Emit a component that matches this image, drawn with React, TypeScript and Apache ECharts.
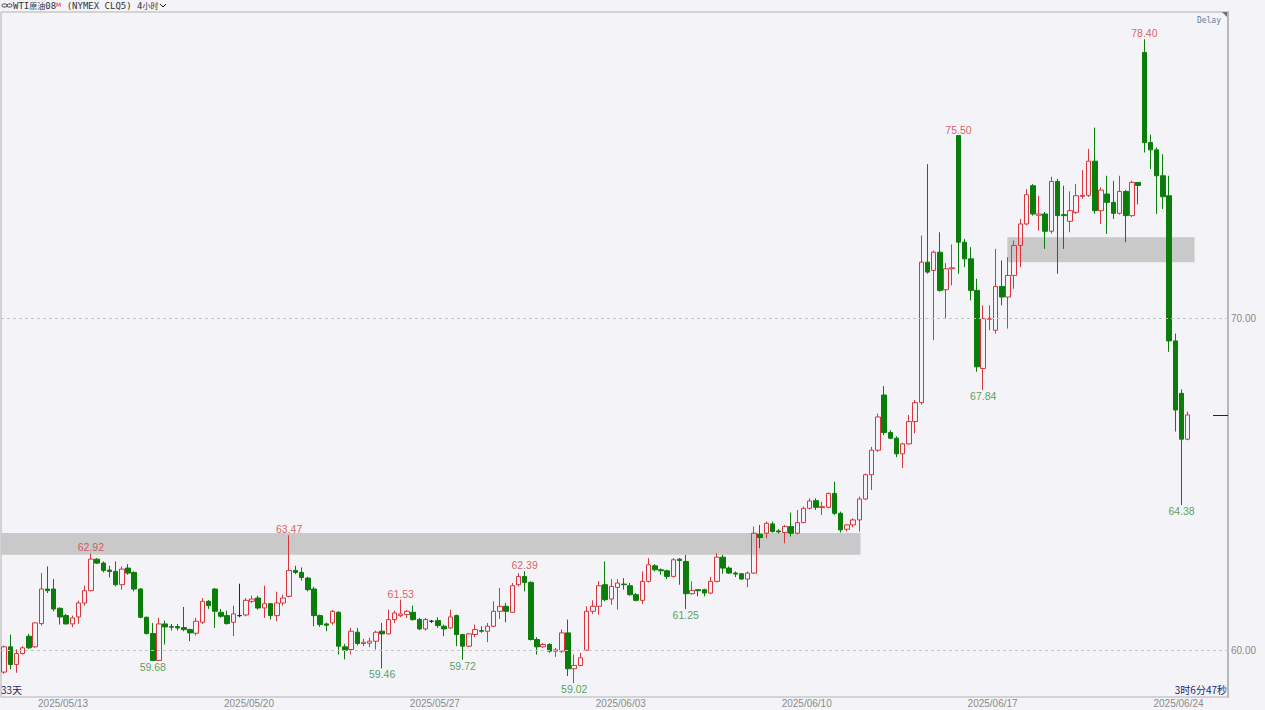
import React, { useEffect, useRef } from "react";
import * as echarts from "echarts";

// Each candle: [open, close, low, high] (4-hour bars, WTI crude)
const ohlc: number[][] = [
  [59.35, 60.11, 59.3, 60.15], [60.11, 59.58, 59.43, 60.48], [59.58, 59.91, 59.33, 60.03], [59.91, 60.08, 59.88, 60.13],
  [60.43, 60.08, 60.05, 60.5], [60.11, 60.83, 60.08, 60.85], [60.81, 61.85, 60.75, 62.33], [61.85, 61.8, 61.73, 62.53],
  [61.85, 61.25, 61.18, 62.15], [61.27, 61.01, 60.78, 61.3], [61.05, 60.8, 60.78, 61.1], [60.8, 60.98, 60.7, 61.05],
  [61.01, 61.43, 60.8, 61.5], [61.43, 61.8, 61.35, 61.95], [61.8, 62.75, 61.78, 62.92], [62.75, 62.63, 62.6, 62.78],
  [62.63, 62.41, 62.35, 62.68], [62.42, 62.38, 62.2, 62.55], [62.38, 61.98, 61.93, 62.68], [61.98, 62.45, 61.83, 62.53],
  [62.48, 62.33, 62.28, 62.6], [62.35, 61.85, 61.78, 62.38], [61.85, 61.0, 60.97, 61.88], [61.0, 60.51, 60.48, 61.02],
  [60.51, 59.7, 59.68, 60.83], [59.7, 60.8, 59.68, 60.98], [60.8, 60.71, 60.18, 60.9], [60.72, 60.7, 60.6, 60.8],
  [60.72, 60.68, 60.6, 60.8], [60.69, 60.63, 60.58, 61.31], [60.63, 60.53, 60.28, 60.66], [60.52, 60.88, 60.45, 60.98],
  [60.85, 61.48, 60.8, 61.58], [61.48, 61.35, 61.25, 61.52], [61.85, 61.18, 60.68, 61.88], [61.15, 61.03, 60.98, 61.25],
  [61.05, 60.81, 60.78, 61.2], [60.85, 61.1, 60.43, 61.35], [61.05, 61.05, 61.0, 62.01], [61.07, 61.51, 61.03, 61.58],
  [61.48, 61.55, 61.43, 61.65], [61.58, 61.28, 61.23, 61.65], [61.28, 61.41, 60.98, 61.95], [61.41, 61.05, 60.93, 61.43],
  [61.05, 61.43, 60.88, 61.77], [61.43, 61.58, 61.35, 61.68], [61.63, 62.41, 61.6, 63.47], [62.41, 62.35, 62.3, 62.55],
  [62.35, 62.2, 62.1, 62.5], [62.18, 61.83, 61.78, 62.22], [61.85, 61.05, 60.73, 61.92], [61.05, 60.78, 60.71, 61.08],
  [60.8, 60.76, 60.58, 60.84], [60.83, 61.18, 60.78, 61.22], [61.15, 60.13, 59.88, 61.18], [60.11, 60.01, 59.73, 60.2],
  [60.03, 60.58, 59.88, 60.68], [60.55, 60.21, 60.15, 60.68], [60.21, 60.25, 60.13, 60.35], [60.22, 60.28, 60.1, 60.38],
  [60.28, 60.55, 60.03, 60.6], [60.58, 60.5, 59.46, 60.83], [60.5, 60.93, 60.48, 61.23], [60.93, 61.13, 60.83, 61.2],
  [61.05, 61.1, 61.0, 61.53], [61.08, 61.18, 60.98, 61.22], [61.15, 60.93, 60.9, 61.35], [60.93, 60.65, 60.62, 60.98],
  [60.65, 60.93, 60.6, 60.98], [60.88, 60.88, 60.83, 60.92], [60.9, 60.75, 60.68, 61.0], [60.73, 60.65, 60.43, 60.78],
  [60.68, 61.01, 60.65, 61.23], [61.05, 60.48, 60.13, 61.08], [60.48, 60.13, 59.72, 60.5], [60.13, 60.5, 60.1, 60.53],
  [60.48, 60.63, 60.4, 60.78], [60.6, 60.58, 60.53, 60.73], [60.58, 60.73, 60.25, 60.83], [60.73, 61.18, 60.7, 61.48],
  [61.18, 61.33, 60.95, 61.88], [61.33, 61.18, 60.85, 61.43], [61.15, 61.95, 61.13, 62.03], [61.98, 62.23, 61.93, 62.33],
  [62.23, 62.05, 61.78, 62.39], [62.05, 60.33, 60.3, 62.08], [60.33, 60.11, 59.88, 60.4], [60.11, 60.18, 60.08, 60.22],
  [60.18, 59.98, 59.93, 60.22], [59.98, 60.02, 59.81, 60.08], [59.98, 60.53, 59.93, 60.63], [60.53, 59.45, 59.23, 60.93],
  [59.45, 59.55, 59.02, 59.88], [59.55, 59.78, 59.53, 59.93], [60.01, 61.18, 59.98, 61.33], [61.18, 61.33, 61.1, 61.51],
  [61.33, 61.95, 61.08, 62.08], [61.98, 61.53, 61.48, 62.68], [61.55, 61.93, 61.38, 62.15], [61.9, 62.03, 61.23, 62.15],
  [62.0, 61.98, 61.83, 62.18], [61.95, 61.68, 61.65, 62.03], [61.68, 61.51, 61.48, 61.73], [61.51, 62.08, 61.4, 62.38],
  [62.08, 62.58, 62.05, 62.78], [62.55, 62.43, 62.38, 62.6], [62.43, 62.4, 62.28, 62.47], [62.4, 62.23, 62.15, 62.43],
  [62.23, 62.73, 62.2, 62.78], [62.75, 62.71, 61.98, 62.78], [62.68, 61.71, 61.25, 62.88], [61.71, 61.81, 61.68, 62.08],
  [61.83, 61.8, 61.63, 61.85], [61.83, 61.73, 61.63, 61.86], [61.73, 62.08, 61.7, 62.21], [62.08, 62.81, 62.05, 62.93],
  [62.81, 62.48, 62.31, 62.88], [62.48, 62.33, 62.3, 62.53], [62.33, 62.3, 62.21, 62.38], [62.31, 62.15, 62.13, 62.33],
  [62.15, 62.33, 61.9, 62.38], [62.33, 63.53, 62.3, 63.73], [63.5, 63.4, 63.08, 63.78], [63.53, 63.83, 63.38, 63.88],
  [63.81, 63.58, 63.55, 63.88], [63.6, 63.57, 63.52, 63.65], [63.55, 63.73, 63.23, 63.78], [63.73, 63.53, 63.43, 64.15],
  [63.53, 63.85, 63.5, 64.23], [63.85, 64.28, 63.83, 64.33], [64.28, 64.5, 64.25, 64.58], [64.51, 64.31, 64.23, 64.58],
  [64.3, 64.33, 64.08, 64.48], [64.31, 64.73, 64.28, 64.75], [64.73, 64.13, 64.08, 65.08], [64.13, 63.63, 63.55, 64.18],
  [63.65, 63.78, 63.58, 63.81], [63.78, 63.93, 63.71, 63.98], [63.93, 64.56, 63.58, 64.63], [64.56, 65.29, 64.53, 65.33],
  [65.29, 66.03, 64.83, 66.13], [66.03, 67.03, 65.98, 67.13], [67.69, 66.56, 66.48, 67.96], [66.56, 66.39, 66.36, 66.63],
  [66.39, 65.92, 65.82, 66.45], [65.92, 66.22, 65.49, 66.25], [66.22, 66.89, 66.2, 67.09], [66.89, 67.46, 66.54, 67.54],
  [67.46, 71.69, 67.4, 72.49], [71.69, 71.39, 71.34, 74.64], [71.44, 71.99, 69.34, 72.04], [71.99, 70.84, 70.8, 72.59],
  [70.86, 71.49, 69.99, 71.66], [71.49, 71.52, 70.99, 72.22], [75.5, 72.29, 71.34, 75.5], [72.29, 71.79, 71.54, 72.39],
  [71.79, 70.84, 70.54, 72.14], [70.84, 68.54, 68.39, 71.19], [68.49, 69.99, 67.84, 70.39], [69.97, 70.0, 69.64, 70.39],
  [69.64, 70.96, 69.54, 72.09], [70.96, 70.64, 70.39, 71.74], [70.64, 71.29, 69.69, 71.84], [71.29, 72.19, 70.89, 72.34],
  [72.19, 72.84, 71.54, 72.99], [72.84, 73.72, 72.8, 73.89], [73.99, 73.14, 73.09, 74.04], [73.1, 73.14, 72.64, 73.69],
  [73.14, 72.62, 72.09, 73.2], [72.62, 74.12, 72.55, 74.26], [74.12, 73.09, 71.34, 74.2], [73.12, 73.09, 72.09, 73.99],
  [72.92, 73.24, 72.59, 73.82], [73.19, 73.69, 73.14, 74.04], [73.67, 73.7, 73.6, 74.46], [73.7, 74.73, 73.65, 75.1],
  [74.73, 73.24, 73.15, 75.74], [73.24, 73.86, 72.84, 73.94], [73.74, 73.49, 72.54, 74.29], [73.49, 73.16, 72.99, 74.14],
  [73.16, 73.82, 73.12, 74.29], [73.82, 73.09, 72.29, 73.86], [73.09, 74.09, 73.05, 74.14], [74.09, 74.0, 73.43, 74.1],
  [78.0, 75.29, 74.99, 78.4], [75.29, 75.07, 74.49, 75.53], [75.07, 74.29, 73.14, 75.14], [74.29, 73.66, 73.29, 74.94],
  [73.69, 69.32, 68.99, 74.29], [69.32, 67.24, 66.59, 69.54], [67.74, 66.36, 64.38, 67.86], [66.36, 67.09, 66.33, 67.19],
];

const slotCount = 198; // bar slots on the axis (incl. empty room on the right)
const dateTickIdx = [10, 40, 70, 100, 130, 160, 190];
const dateTickLabels = ["2025/05/13", "2025/05/20", "2025/05/27", "2025/06/03", "2025/06/10", "2025/06/17", "2025/06/24"];
const highIdx = [14, 46, 64, 84, 154, 184];
const lowIdx = [24, 61, 74, 92, 110, 158, 190];
const yLabelValues = [60, 70];
// zones: [start slot, end slot, upper price, lower price]
const zones = [
  [-0.5, 138.2, 63.54, 62.88],
  [161.9, 192.1, 72.44, 71.69],
];
const yMin = 58.6;
const yMax = 79.22;
const daysText = "33天";
const countdownText = "3时6分47秒";

const UP = "#d8353c";
const DOWN = "#0b7d0b";
const LABEL_FONT = "'Liberation Sans', Arial, sans-serif";

export default function App() {
  const ref = useRef<HTMLDivElement>(null);

  useEffect(() => {
    if (!ref.current) return;
    const chart = echarts.init(ref.current, null, { renderer: "svg" });
    const cats = Array.from({ length: slotCount }, (_, i) => String(i));

    const option: any = {
      animation: false,
      backgroundColor: "#f4f4f8",
      textStyle: { fontFamily: LABEL_FONT },
      grid: {
        left: 1,
        right: 37,
        top: 12,
        bottom: 13,
        show: true,
        borderColor: "#b2b2b2",
        borderWidth: 1,
        backgroundColor: "#f4f4f8",
      },
      xAxis: {
        type: "category",
        data: cats,
        boundaryGap: true,
        axisLine: { show: false },
        axisTick: { show: false },
        splitLine: { show: false },
        axisLabel: {
          interval: (idx: number) => dateTickIdx.indexOf(idx) >= 0,
          margin: 1,
          formatter: (v: string) => {
            const k = dateTickIdx.indexOf(Number(v));
            return k >= 0 ? `{a|${dateTickLabels[k]}}` : "";
          },
          rich: {
            a: {
              fontSize: 10,
              color: "#8a8a8a",
              fontFamily: LABEL_FONT,
              padding: [0, 6, 0, 0],
            },
          },
        },
      },
      yAxis: {
        type: "value",
        position: "right",
        min: yMin,
        max: yMax,
        splitNumber: 5,
        splitLine: { show: false },
        axisTick: { show: false },
        axisLine: { show: true, lineStyle: { color: "#b8b8b8", width: 2 } },
        axisLabel: {
          showMinLabel: false,
          showMaxLabel: false,
          margin: 3,
          fontSize: 10,
          color: "#8a8a8a",
          fontFamily: LABEL_FONT,
          formatter: (v: number) =>
            yLabelValues.some((t) => Math.abs(t - v) < 1e-6) ? v.toFixed(2) : "",
        },
      },
      series: [
        {
          type: "custom",
          name: "zones",
          silent: true,
          z: 1,
          data: zones.map((z) => [0, z[2]]),
          encode: { x: 0, y: 1 },
          renderItem: (params: any, api: any) => {
            const z = zones[params.dataIndex];
            const c0 = api.coord([0, z[2]]);
            const c1 = api.coord([0, z[3]]);
            const bw = api.size([1, 0])[0];
            const x1 = c0[0] + z[0] * bw;
            const x2 = c0[0] + z[1] * bw;
            return {
              type: "rect",
              shape: { x: x1, y: c0[1], width: x2 - x1, height: c1[1] - c0[1] },
              style: { fill: "#c9c9c9" },
            };
          },
        },
        {
          type: "candlestick",
          name: "WTI",
          z: 3,
          barWidth: 5,
          data: ohlc,
          itemStyle: {
            color: "transparent",
            color0: DOWN,
            borderColor: UP,
            borderColor0: DOWN,
            borderColorDoji: "#2a2a2a",
            borderWidth: 1,
          },
          markLine: {
            silent: true,
            symbol: ["none", "none"],
            label: { show: false },
            lineStyle: { type: [3, 3], color: "#c6c6c6", width: 1 },
            data: yLabelValues.map((v) => ({ yAxis: v })),
          },
        },
        {
          type: "scatter",
          name: "highs",
          z: 5,
          silent: true,
          symbolSize: 1,
          itemStyle: { color: "rgba(0,0,0,0)" },
          data: highIdx.map((i) => [i, ohlc[i][3]]),
          label: {
            show: true,
            position: "top",
            distance: 0,
            color: "#cf3a40",
            fontSize: 10.5,
            fontFamily: LABEL_FONT,
            formatter: (p: any) => (p.value[1] as number).toFixed(2),
          },
        },
        {
          type: "scatter",
          name: "lows",
          z: 5,
          silent: true,
          symbolSize: 1,
          itemStyle: { color: "rgba(0,0,0,0)" },
          data: lowIdx.map((i) => [i, ohlc[i][2]]),
          label: {
            show: true,
            position: "bottom",
            distance: 0,
            color: "#2f8a2f",
            fontSize: 10.5,
            fontFamily: LABEL_FONT,
            formatter: (p: any) => (p.value[1] as number).toFixed(2),
          },
        },
      ],
      graphic: [
        {
          id: "linkL",
          type: "rect",
          shape: { x: 2, y: 4, width: 5, height: 3, r: 1.5 },
          style: { stroke: "#444", fill: "none", lineWidth: 1 },
        },
        {
          id: "linkR",
          type: "rect",
          shape: { x: 7, y: 4, width: 5, height: 3, r: 1.5 },
          style: { stroke: "#444", fill: "none", lineWidth: 1 },
        },
        {
          id: "title",
          type: "text",
          left: 13,
          top: 1,
          style: {
            text: "{a|WTI}{k|原油}{a|08}{m|M}{a| (NYMEX CLQ5) 4}{k|小时}",
            rich: {
              a: { fontSize: 9, fill: "#333", fontFamily: "'DejaVu Sans Mono'" },
              k: { fontSize: 8, fill: "#333", fontFamily: "'Noto Sans CJK SC'" },
              m: { fontSize: 6, fill: "#d03030", fontFamily: "'DejaVu Sans'", verticalAlign: "top" },
            },
          },
        },
        {
          id: "chevron",
          type: "polyline",
          shape: { points: [[160, 4], [163, 7], [166, 4]] },
          style: { stroke: "#222", lineWidth: 1, fill: null },
          z: 20,
        },
        {
          id: "delay",
          type: "text",
          right: 44,
          top: 16,
          style: { text: "Delay", fontSize: 8, fill: "#6a7b9c", fontFamily: "'DejaVu Sans Mono'" },
        },
        {
          id: "corner",
          type: "polygon",
          shape: { points: [[1222, 12], [1228, 12], [1228, 18]] },
          style: { fill: "#6e6e6e" },
        },
        {
          id: "days",
          type: "text",
          left: 1,
          top: 684,
          style: { text: daysText, fontSize: 10, fill: "#262666", fontFamily: "'Noto Sans CJK SC'" },
        },
        {
          id: "countdown",
          type: "text",
          right: 38,
          top: 684,
          style: { text: countdownText, fontSize: 10, fill: "#262666", fontFamily: "'Noto Sans CJK SC'" },
        },
      ],
    };

    chart.setOption(option);

    const last = ohlc.length - 1;
    const p = chart.convertToPixel({ seriesIndex: 1 }, [last, ohlc[last][1]]) as number[];
    if (p) {
      const right = 1265 - 37;
      chart.setOption({
        graphic: [
          {
            id: "priceMark",
            type: "line",
            shape: { x1: right - 15, y1: Math.round(p[1]) + 0.5, x2: right, y2: Math.round(p[1]) + 0.5 },
            style: { stroke: "#1c1c5a", lineWidth: 1 },
            z: 10,
          },
        ],
      });
    }

    return () => chart.dispose();
  }, []);

  return (
    <div
      ref={ref}
      style={{ position: "absolute", left: 0, top: 0, width: 1265, height: 710, background: "#f4f4f8" }}
    />
  );
}
